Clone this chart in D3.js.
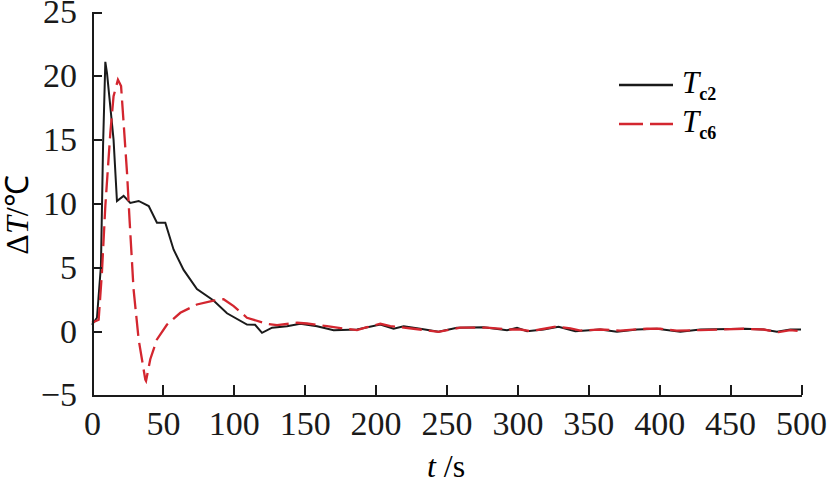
<!DOCTYPE html>
<meta charset="utf-8">
<head>
<style type="text/css">
body { margin: 0; background: #fff; }
svg, svg text { font-family: "Liberation Serif", "Times New Roman", serif; }
.axis path, .axis line { fill: none; stroke: #1a1a1a; stroke-width: 2px; shape-rendering: crispEdges; }
.axis text { font-size: 34px; fill: #1a1a1a; font-family: "Liberation Serif", "Times New Roman", serif; }
</style>
<script src="https://cdn.jsdelivr.net/npm/d3@7/dist/d3.min.js"></script>
</head>
<body>
<div id="graph"></div>
<script>
var xTicks = [0, 50, 100, 150, 200, 250, 300, 350, 400, 450, 500];
var yTicks = [-5, 0, 5, 10, 15, 20, 25];

var timeC2 = [0, 3.5, 6.3, 7.8, 9.4, 10.6, 15.2, 17.6, 22.3, 27, 32.9, 40, 45.8, 51.7, 57.5, 64.6, 74, 85.7, 95.2,
  109.3, 115, 119.9, 127, 137.5, 146.9, 158.7, 170.4, 186.9, 203.3, 212.7, 219.8, 231.5, 244.4, 257.4, 276.2,
  292.7, 299.7, 306.8, 318.5, 329, 340.8, 358.4, 370.2, 384.3, 398.4, 414.9, 429, 460.7, 473.6, 483, 492.5, 500];
var tempC2 = [0.5, 1.05, 5.1, 14.5, 21.1, 20.2, 15, 10.2, 10.6, 10.05, 10.2, 9.8, 8.5, 8.5, 6.4, 4.8, 3.3, 2.4, 1.4,
  0.52, 0.5, -0.13, 0.27, 0.39, 0.58, 0.39, 0.08, 0.13, 0.52, 0.19, 0.39, 0.19, -0.05, 0.27, 0.31,
  0.08, 0.27, 0, 0.13, 0.35, 0, 0.13, -0.05, 0.13, 0.19, -0.05, 0.13, 0.19, 0.13, -0.05, 0.13, 0.13];

var timeC6 = [0, 4.7, 7, 9.4, 12.9, 15.2, 18.3, 20.5, 22.3, 24.7, 26.5, 29.3, 32.9, 37.6, 38.1, 41.1, 45.8, 52.9,
  62.3, 74, 85.7, 92.8, 99.9, 109.3, 123.4, 130.5, 144.6, 151.6, 165.7, 177.4, 186.9, 193.9, 203.3, 210.4,
  226.8, 244.4, 259.7, 278.5, 295, 302, 309, 316, 328, 337.4, 344.4, 358.4, 372.5, 391.3, 400.7, 412.4, 429,
  459.5, 473.6, 484.2, 492.5, 500];
var tempC6 = [0.66, 0.9, 4.6, 9.8, 15.5, 18.4, 19.7, 19.2, 16.3, 12.4, 8.7, 3.3, -0.65, -3.8, -3.9, -2.2, -0.65, 0.52,
  1.44, 2.09, 2.4, 2.5, 1.96, 1.05, 0.58, 0.47, 0.66, 0.6, 0.39, 0.21, 0.08, 0.31, 0.58, 0.39,
  0.19, -0.05, 0.27, 0.27, 0.13, 0.13, 0, 0.13, 0.37, 0.21, 0.05, 0.13, 0.05, 0.19, 0.19, 0.05, 0.08,
  0.19, 0.13, -0.08, 0.08, 0];

var red = "#d3262f";

var svg = d3.select("#graph").append("svg")
  .attr("width", 829)
  .attr("height", 484);

var x = d3.scaleLinear().domain([0, 500]).range([92, 801]);
var y = d3.scaleLinear().domain([-5, 25]).range([395, 12]);

var line = d3.line()
  .x(d => x(d[0]))
  .y(d => y(d[1]));

var c2 = timeC2.map((t, i) => [t, tempC2[i]]);
var c6 = timeC6.map((t, i) => [t, tempC6[i]]);

svg.append("path")
  .datum(c2)
  .attr("d", line)
  .attr("fill", "none")
  .attr("stroke", "#1a1a1a")
  .attr("stroke-width", 2);

svg.append("path")
  .datum(c6)
  .attr("d", line)
  .attr("fill", "none")
  .attr("stroke", red)
  .attr("stroke-width", 2.3)
  .attr("stroke-dasharray", "20,7");

//----------------------------------------------------
svg.append("g")
  .attr("class", "axis")
  .attr("transform", "translate(0," + 395 + ")")
  .call(d3.axisBottom(x).tickValues(xTicks).tickSize(-10).tickSizeOuter(0).tickPadding(16));

svg.append("g")
  .attr("class", "axis")
  .attr("transform", "translate(" + 92 + ",0)")
  .call(d3.axisLeft(y).tickValues(yTicks).tickSize(-10).tickSizeOuter(0).tickPadding(15)
    .tickFormat(d => d < 0 ? "\u2212" + Math.abs(d) : d));

svg.selectAll(".axis").attr("font-family", null);
svg.selectAll(".axis .domain").attr("stroke-width", 2);

// axis titles
var xt = svg.append("text")
  .attr("x", 446)
  .attr("y", 477)
  .attr("text-anchor", "middle")
  .style("font-size", "32px");
xt.append("tspan").style("font-style", "italic").text("t");
xt.append("tspan").text(" /s");

var yt = svg.append("text")
  .attr("transform", "translate(28,215) rotate(-90)")
  .attr("text-anchor", "middle")
  .style("font-size", "32px");
yt.append("tspan").text("\u0394");
yt.append("tspan").style("font-style", "italic").text("T");
yt.append("tspan").text("/\u2103");

//----------------------------------------------------
var legend = [
  {name: "c2", color: "#1a1a1a", dash: null},
  {name: "c6", color: red, dash: "24,7"}
];
var lg = svg.selectAll(".legend")
  .data(legend)
  .enter().append("g")
  .attr("transform", (d, i) => "translate(619," + (85 + i * 39) + ")");
lg.append("line")
  .attr("x1", 0).attr("x2", 54)
  .attr("stroke", d => d.color)
  .attr("stroke-width", 2.3)
  .attr("stroke-dasharray", d => d.dash);
var lt = lg.append("text")
  .attr("x", 63)
  .attr("y", 8)
  .style("font-size", "31px");
lt.append("tspan").style("font-style", "italic").text("T");
lt.append("tspan")
  .attr("dy", 7)
  .style("font-size", "18px")
  .style("font-weight", "bold")
  .text(d => d.name);
</script>
</body>
</html>
